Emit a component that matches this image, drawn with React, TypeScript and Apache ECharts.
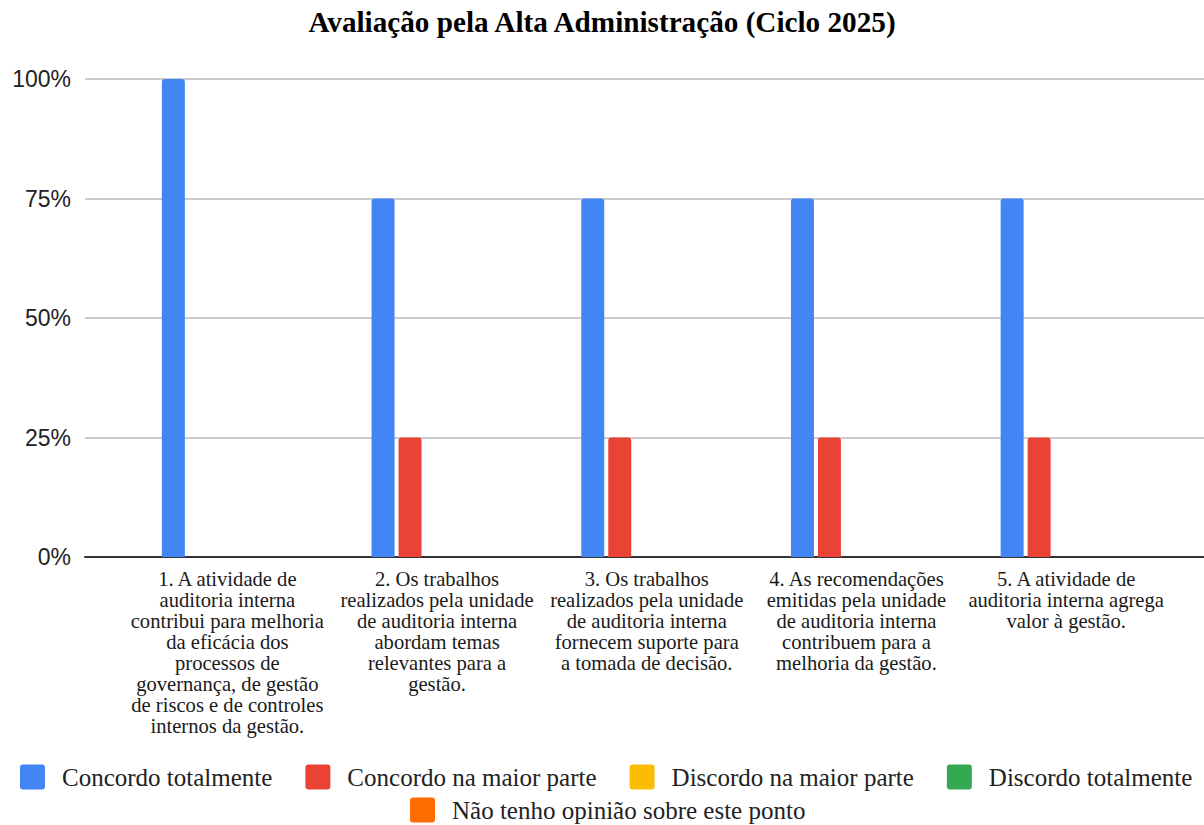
import React, { useEffect, useRef } from "react";
import * as echarts from "echarts";

const chartTitle = "Avaliação pela Alta Administração (Ciclo 2025)";

const categories = [
  "1. A atividade de\nauditoria interna\ncontribui para melhoria\nda eficácia dos\nprocessos de\ngovernança, de gestão\nde riscos e de controles\ninternos da gestão.",
  "2. Os trabalhos\nrealizados pela unidade\nde auditoria interna\nabordam temas\nrelevantes para a\ngestão.",
  "3. Os trabalhos\nrealizados pela unidade\nde auditoria interna\nfornecem suporte para\na tomada de decisão.",
  "4. As recomendações\nemitidas pela unidade\nde auditoria interna\ncontribuem para a\nmelhoria da gestão.",
  "5. A atividade de\nauditoria interna agrega\nvalor à gestão.",
];

const seriesNames = [
  "Concordo totalmente",
  "Concordo na maior parte",
  "Discordo na maior parte",
  "Discordo totalmente",
  "Não tenho opinião sobre este ponto",
];

const seriesColors = ["#4285F4", "#EA4335", "#FBBC04", "#34A853", "#FF6D01"];

const concordoTotalmente = [100, 75, 75, 75, 75];
const concordoMaiorParte = [0, 25, 25, 25, 25];
const discordoMaiorParte = [0, 0, 0, 0, 0];
const discordoTotalmente = [0, 0, 0, 0, 0];
const semOpiniao = [0, 0, 0, 0, 0];

const seriesValues = [
  concordoTotalmente,
  concordoMaiorParte,
  discordoMaiorParte,
  discordoTotalmente,
  semOpiniao,
];

const yMin = 0;
const yMax = 100;
const yInterval = 25;

const SERIF = "'Liberation Serif', 'Times New Roman', serif";
const SANS = "'Liberation Sans', Arial, sans-serif";

const LEGEND_ICON =
  "path://M3,0H22A3,3,0,0,1,25,3V22A3,3,0,0,1,22,25H3A3,3,0,0,1,0,22V3A3,3,0,0,1,3,0Z";

export default function App() {
  const ref = useRef<HTMLDivElement>(null);

  useEffect(() => {
    if (!ref.current) return;
    const chart = echarts.init(ref.current, null, { renderer: "svg" });

    const legendText = {
      fontFamily: SERIF,
      fontSize: 25,
      lineHeight: 26,
      color: "#222",
      padding: [0, 0, 0, 12],
    };

    const legendBase = {
      orient: "horizontal",
      padding: 0,
      itemWidth: 25,
      itemHeight: 25,
      itemGap: 33,
      icon: LEGEND_ICON,
      textStyle: legendText,
    };

    const option: any = {
      animation: false,
      backgroundColor: "#fff",
      title: {
        text: chartTitle,
        left: "center",
        top: 2,
        textStyle: {
          fontFamily: SERIF,
          fontWeight: "bold",
          fontSize: 29.2,
          color: "#000",
        },
      },
      legend: [
        {
          ...legendBase,
          data: seriesNames.slice(0, 4),
          top: 764,
          left: 20,
          width: 1184,
        },
        {
          ...legendBase,
          data: seriesNames.slice(4),
          top: 797,
          left: 410,
          width: 700,
        },
      ],
      grid: [
        { left: 85, right: 0, top: 79, bottom: 268 },
        { left: 122.5, right: 33, top: 79, bottom: 268 },
      ],
      xAxis: [
        {
          gridIndex: 0,
          type: "value",
          min: 0,
          max: 1,
          axisLine: { show: true, lineStyle: { color: "#333", width: 2 } },
          axisTick: { show: false },
          axisLabel: { show: false },
          splitLine: { show: false },
        },
        {
          gridIndex: 1,
          type: "category",
          data: categories,
          axisLine: { show: false },
          axisTick: { show: false },
          axisLabel: {
            interval: 0,
            margin: 11,
            fontFamily: SERIF,
            fontSize: 20.6,
            lineHeight: 21,
            color: "#1a1a1a",
            align: "center",
          },
        },
      ],
      yAxis: [
        {
          gridIndex: 0,
          type: "value",
          min: yMin,
          max: yMax,
          interval: yInterval,
          axisLine: { show: false },
          axisTick: { show: false },
          axisLabel: {
            formatter: (v: number) => `${v}%`,
            fontFamily: SANS,
            fontSize: 23,
            color: "#222",
            margin: 14,
          },
          splitLine: { lineStyle: { color: "#cccccc", width: 2 } },
        },
        {
          gridIndex: 1,
          type: "value",
          min: yMin,
          max: yMax,
          interval: yInterval,
          show: false,
          splitLine: { show: false },
        },
      ],
      series: seriesNames.map((name, i) => ({
        name,
        type: "bar",
        xAxisIndex: 1,
        yAxisIndex: 1,
        data: seriesValues[i],
        barWidth: 23,
        barGap: "17.4%",
        itemStyle: { color: seriesColors[i], borderRadius: [3, 3, 0, 0] },
      })),
    };

    chart.setOption(option);
    return () => chart.dispose();
  }, []);

  return (
    <div
      ref={ref}
      style={{ position: "absolute", left: 0, top: 0, width: 1204, height: 825 }}
    />
  );
}
